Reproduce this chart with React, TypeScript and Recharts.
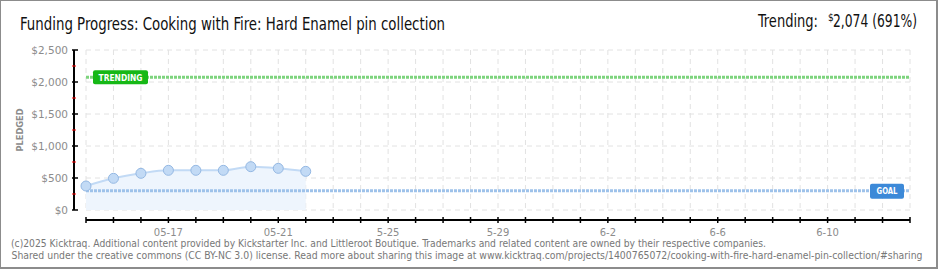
import React from 'react';
import { ComposedChart, Area, XAxis, YAxis, CartesianGrid, ReferenceLine } from 'recharts';

// ---- data ----
const days = [0, 1, 2, 3, 4, 5, 6, 7, 8];
const pledged = [375, 495, 573, 620, 620, 620, 677, 651, 604];
const axisDays = [0, 1, 2, 3, 4, 5, 6, 7, 8, 9, 10, 11, 12, 13, 14, 15, 16, 17, 18, 19, 20, 21, 22, 23, 24, 25, 26, 27, 28, 29, 30];
const labelDays = [3, 7, 11, 15, 19, 23, 27];
const labelTexts = ['05-17', '05-21', '5-25', '5-29', '6-2', '6-6', '6-10'];
const yTicks = [0, 250, 500, 750, 1000, 1250, 1500, 1750, 2000, 2250, 2500];
const yLabelTicks = [0, 500, 1000, 1500, 2000, 2500];
const yLabelTexts = ['$0', '$500', '$1,000', '$1,500', '$2,000', '$2,500'];
const goal = 300;
const trending = 2074;
const titleText = 'Funding Progress: Cooking with Fire: Hard Enamel pin collection';
const footer1 = '(c)2025 Kicktraq. Additional content provided by Kickstarter Inc. and Littleroot Boutique. Trademarks and related content are owned by their respective companies.';
const footer2 = 'Shared under the creative commons (CC BY-NC 3.0) license. Read more about sharing this image at www.kicktraq.com/projects/1400765072/cooking-with-fire-hard-enamel-pin-collection/#sharing';

const data = days.map((d, i) => ({ day: d, pledged: pledged[i] }));

const tickFont = "'DejaVu Sans', sans-serif";

const YTick = (props: any) => {
  const { x, y, payload } = props;
  const idx = yLabelTicks.indexOf(payload.value);
  if (idx < 0) {
    return <line x1={x - 14} x2={x - 10} y1={y} y2={y} stroke="#ff0000" strokeWidth={1} />;
  }
  return (
    <g>
      <line x1={x - 14} x2={x - 8} y1={y} y2={y} stroke="#000" strokeWidth={1.5} />
      <text x={x - 18} y={y} textAnchor="end" dominantBaseline="central" fontSize={10.5} fill="#8c8c8c" fontFamily={tickFont}>
        {yLabelTexts[idx]}
      </text>
    </g>
  );
};

const XTick = (props: any) => {
  const { x, y, payload } = props;
  const idx = labelDays.indexOf(payload.value);
  return (
    <g>
      <line x1={x} x2={x} y1={y + 7} y2={y + 13} stroke="#000" strokeWidth={1.5} />
      {idx >= 0 && (
        <text x={x} y={y + 22} textAnchor="middle" dominantBaseline="central" fontSize={10} fill="#8c8c8c" fontFamily={tickFont}>
          {labelTexts[idx]}
        </text>
      )}
    </g>
  );
};

const TrendLabel = (props: any) => {
  const { x, y } = props.viewBox;
  return (
    <g>
      <rect x={x + 7} y={y - 7} width={55} height={14} rx={2} fill="#16b816" />
      <text x={x + 34.5} y={y + 0.5} textAnchor="middle" dominantBaseline="central" fill="#fff" fontSize={9} fontWeight="bold" fontFamily={tickFont} textLength={44} lengthAdjust="spacingAndGlyphs">
        TRENDING
      </text>
    </g>
  );
};

const GoalLabel = (props: any) => {
  const { x, y, width } = props.viewBox;
  const right = x + width - 6;
  return (
    <g>
      <rect x={right - 34} y={y - 7} width={34} height={15} rx={2} fill="#3c89d8" />
      <text x={right - 17} y={y + 0.5} textAnchor="middle" dominantBaseline="central" fill="#fff" fontSize={9} fontWeight="bold" fontFamily={tickFont} textLength={21} lengthAdjust="spacingAndGlyphs">
        GOAL
      </text>
    </g>
  );
};

export default function App() {
  return (
    <div style={{ position: 'absolute', left: 0, top: 0, width: 940, height: 270, background: '#fff', overflow: 'hidden' }}>
      <div style={{ position: 'absolute', left: 0, top: 0, width: 938, height: 269, boxSizing: 'border-box', border: '1px solid #8c8c8c', borderRightWidth: 2, borderBottomWidth: 2 }} />
      <div style={{ position: 'absolute', left: 0, top: 0 }}>
        <ComposedChart width={940} height={270} data={data} margin={{ top: 50, right: 30, bottom: 0, left: 0 }}>
          <CartesianGrid stroke="#e2e2e2" strokeDasharray="5 4" horizontalValues={yLabelTicks} />
          <XAxis
            dataKey="day"
            type="number"
            domain={[0, 30]}
            ticks={axisDays}
            interval={0}
            height={60}
            tickSize={0}
            tickMargin={0}
            tickLine={false}
            axisLine={{ stroke: '#000', strokeWidth: 2, transform: 'translate(0,10)' }}
            tick={<XTick />}
          />
          <YAxis
            type="number"
            domain={[0, 2500]}
            ticks={yTicks}
            interval={0}
            width={86}
            tickSize={0}
            tickMargin={0}
            tickLine={false}
            axisLine={{ stroke: '#000', strokeWidth: 2, transform: 'translate(-12,0)' }}
            tick={<YTick />}
          />
          <Area
            type="monotone"
            dataKey="pledged"
            stroke="#c2daf5"
            strokeWidth={2}
            fill="#eef5fd"
            fillOpacity={1}
            dot={{ r: 5, fill: '#c2daf5', stroke: '#94b8e3', strokeWidth: 1, fillOpacity: 1 }}
            isAnimationActive={false}
          />
          <ReferenceLine y={trending} stroke="#7dd47d" strokeWidth={3} strokeDasharray="3 1" label={TrendLabel} />
          <ReferenceLine y={goal} stroke="#9ec2ea" strokeWidth={3} strokeDasharray="3 1" label={GoalLabel} />
        </ComposedChart>
      </div>
      <svg width={940} height={270} style={{ position: 'absolute', left: 0, top: 0, pointerEvents: 'none' }}>
        <text x={20} y={30} fontSize={17} fill="#111" fontFamily="'Liberation Sans Narrow', 'DejaVu Sans Condensed', sans-serif" textLength={425} lengthAdjust="spacingAndGlyphs">
          {titleText}
        </text>
        <text x={758} y={27} fontSize={17} fill="#111" fontFamily="'Liberation Sans Narrow', 'DejaVu Sans Condensed', sans-serif" textLength={60} lengthAdjust="spacingAndGlyphs">
          Trending:
        </text>
        <text x={828} y={21} fontSize={10} fill="#111" fontFamily="'Liberation Sans Narrow', 'DejaVu Sans Condensed', sans-serif">
          $
        </text>
        <text x={833} y={27} fontSize={17} fill="#111" fontFamily="'Liberation Sans Narrow', 'DejaVu Sans Condensed', sans-serif" textLength={84} lengthAdjust="spacingAndGlyphs">
          {`${trending.toLocaleString('en-US')} (${Math.round((trending / goal) * 100)}%)`}
        </text>
        <text x={0} y={0} transform="translate(23,130) rotate(-90)" textAnchor="middle" fontSize={8.5} fontWeight="bold" fill="#8c8c8c" fontFamily={tickFont} textLength={43} lengthAdjust="spacingAndGlyphs">
          PLEDGED
        </text>
        <text x={11} y={247} fontSize={10} fill="#777" fontFamily="'DejaVu Sans Condensed', 'DejaVu Sans', sans-serif" textLength={755} lengthAdjust="spacingAndGlyphs">
          {footer1}
        </text>
        <text x={11.5} y={259} fontSize={10} fill="#777" fontFamily="'DejaVu Sans Condensed', 'DejaVu Sans', sans-serif" textLength={911} lengthAdjust="spacingAndGlyphs">
          {footer2}
        </text>
      </svg>
    </div>
  );
}
